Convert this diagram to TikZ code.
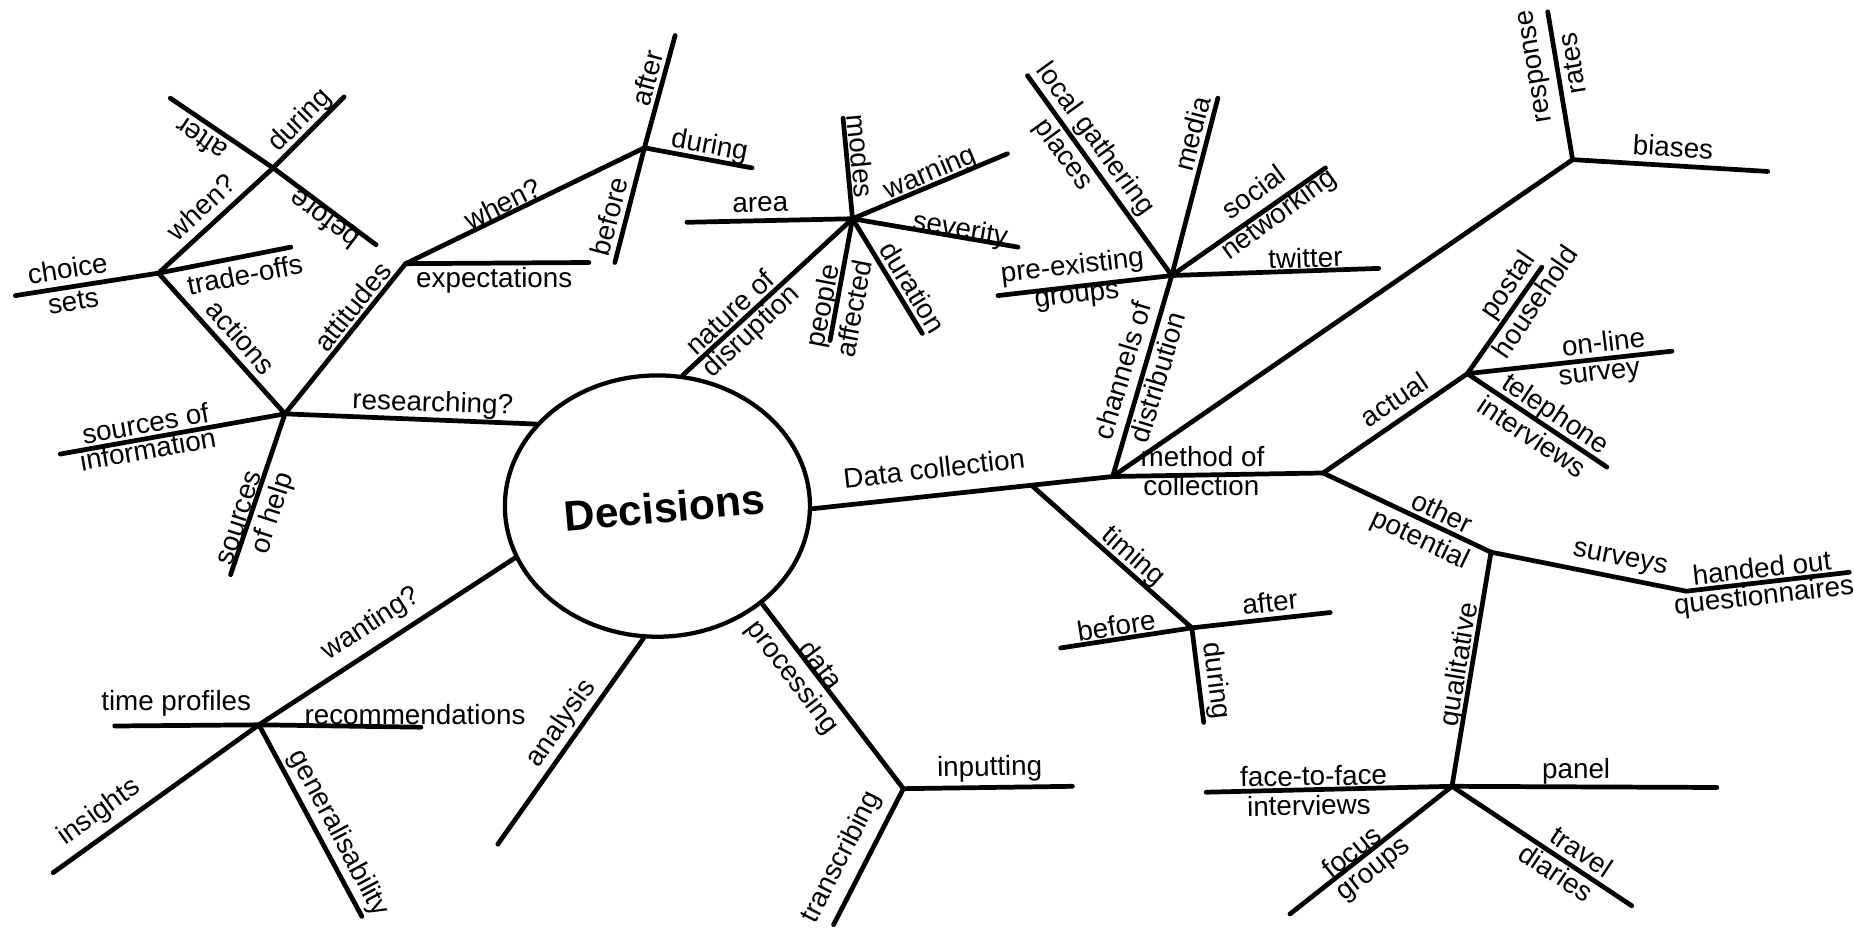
\documentclass[tikz,border=0pt]{standalone}
\usepackage{fontspec}
\setmainfont{Liberation Sans}
\usetikzlibrary{calc}
\usetikzlibrary{shapes.geometric}

\begin{document}
\begin{tikzpicture}[x=1pt, y=-1pt, line width=4pt, line cap=round, line join=round,
  lbl/.style={font=\fontsize{23.5}{26}\selectfont, inner sep=0pt}]
\useasboundingbox (0,0) rectangle (1568,785);

\node[draw, ellipse, minimum width=258pt, minimum height=221pt, line width=3.6pt] (dec) at (556,428) {};
\node[font=\fontsize{36}{40}\selectfont\bfseries, rotate=5, inner sep=0pt] (dectxt) at (562,429) {Decisions};

\coordinate (rs) at (241,350);
\coordinate (soi) at (51,384);
\coordinate (soh) at (195,486);
\coordinate (ch) at (134,231);
\coordinate (cs) at (13,250);
\coordinate (tro) at (246,209);
\coordinate (wh) at (231,142);
\coordinate (wdu) at (291,82);
\coordinate (waf) at (144,83);
\coordinate (wbe) at (318,207);
\coordinate (at) at (343,223);
\coordinate (ex) at (498,222);
\coordinate (wh2) at (545,125);
\coordinate (waf2) at (571,30);
\coordinate (wbe2) at (520,222);
\coordinate (wdu2) at (636,142);
\draw (dec.146) -- (rs);
\draw (soi) -- (rs) -- (soh);
\draw (rs) -- (ch) -- (cs);
\draw (ch) -- (tro);
\draw (ch) -- (wh) -- (wdu);
\draw (waf) -- (wh) -- (wbe);
\draw (rs) -- (at) -- (ex);
\draw (at) -- (wh2) -- (wdu2);
\draw (waf2) -- (wh2) -- (wbe2);

\coordinate (nd) at (721,185);
\coordinate (ar) at (581,188);
\coordinate (mo) at (713,100);
\coordinate (wa) at (852,130);
\coordinate (sv) at (861,209);
\coordinate (du) at (780,282);
\coordinate (pa) at (702,288);
\draw (dec.79) -- (nd);
\foreach \e in {ar,mo,wa,sv,du,pa} {
 \draw (nd) -- (\e);
}

\coordinate (cd) at (991,233);
\coordinate (lg) at (869,64);
\coordinate (md) at (1030,83);
\coordinate (sn) at (1121,142);
\coordinate (tw) at (1166,227);
\coordinate (pg) at (844,250);
\coordinate (mc) at (941,403);
\foreach \e in {lg,md,sn,tw,pg,mc} {
 \draw (cd) -- (\e);
}

\draw (dec.-1) -- (mc);
\coordinate (tm) at ($(dec.-1)!0.73!(mc)$);
\coordinate (bi) at (1330,135);
\coordinate (rr) at (1309,10);
\coordinate (bs) at (1495,145);
\draw (mc) -- (bi) -- (rr);
\draw (bi) -- (bs);
\coordinate (oc) at (1119,400);
\coordinate (ac) at (1241,316);
\coordinate (ph) at (1304,226);
\coordinate (os) at (1414,297);
\coordinate (ti) at (1359,395);
\draw (mc) -- (oc) -- (ac);
\foreach \e in {ph,os,ti} {
 \draw (ac) -- (\e);
}
\coordinate (op) at (1261,467);
\coordinate (sq) at (1426,500);
\coordinate (hq) at (1564,484);
\draw (oc) -- (op) -- (sq) -- (hq);
\coordinate (ql) at (1228,665);
\coordinate (ff) at (1020,670);
\coordinate (pn) at (1452,666);
\coordinate (fg) at (1091,773);
\coordinate (tdi) at (1380,766);
\draw (op) -- (ql);
\foreach \e in {ff,pn,fg,tdi} {
 \draw (ql) -- (\e);
}

\coordinate (tg) at (1008,531);
\coordinate (tb) at (897,548);
\coordinate (ta) at (1125,518);
\coordinate (tdu) at (1018,611);
\draw (tm) -- (tg);
\foreach \e in {tb,ta,tdu} {
 \draw (tg) -- (\e);
}

\coordinate (dp) at (764,667);
\coordinate (ip) at (907,665);
\coordinate (tr) at (705,782);
\draw (dec.-43.5) -- (dp) -- (ip);
\draw (dp) -- (tr);

\coordinate (wt) at (219,613);
\coordinate (tp) at (97,614);
\coordinate (rc) at (356,615);
\coordinate (is) at (45,738);
\coordinate (ge) at (306,775);
\draw (dec.200) -- (wt);
\foreach \e in {tp,rc,is,ge} {
 \draw (wt) -- (\e);
}
\coordinate (an) at (421,714);
\draw (dec.-96) -- (an);

\node[lbl, rotate=-2] (lrs) at (366,342) {researching?};
\node[lbl, rotate=10] (lsoi1) at (123,358) {sources of};
\node[lbl, rotate=10] (lsoi2) at (125,380) {information};
\node[lbl, rotate=72] (lsoh1) at (203,438) {sources};
\node[lbl, rotate=72] (lsoh2) at (231,434) {of help};
\node[lbl, rotate=-48.5] (lact) at (204,285) {actions};
\node[lbl, rotate=51] (latt) at (298,259) {attitudes};
\node[lbl, rotate=9] (lch1) at (57,227) {choice};
\node[lbl, rotate=9] (lch2) at (62,255) {sets};
\node[lbl, rotate=11] (ltro) at (207,232) {trade-offs};
\node[lbl, rotate=43] (lwh) at (170,175) {when?};
\node[lbl, rotate=146] (lwaf) at (170,118) {after};
\node[lbl, rotate=45] (lwdu) at (254,102) {during};
\node[lbl, rotate=143] (lwbe) at (274,186) {before};
\node[lbl, rotate=26] (lwh2) at (425,172) {when?};
\node[lbl] (lex) at (418,237) {expectations};
\node[lbl, rotate=75] (lwaf2) at (547,66) {after};
\node[lbl, rotate=75] (lwbe2) at (515,183) {before};
\node[lbl, rotate=-10.6] (lwdu2) at (600,124) {during};

\node[lbl, rotate=43] (lnd1) at (617,264) {nature of};
\node[lbl, rotate=43] (lnd2) at (636,281) {disruption};
\node[lbl, rotate=1] (lar) at (643,173) {area};
\node[lbl, rotate=-84.6] (lmo) at (728,132) {modes};
\node[lbl, rotate=23] (lwa) at (787,147) {warning};
\node[lbl, rotate=-9.6] (lsv) at (812,195) {severity};
\node[lbl, rotate=-58.6] (ldu) at (772,243) {duration};
\node[lbl, rotate=79] (lpa1) at (697,259) {people};
\node[lbl, rotate=79] (lpa2) at (722,261) {affected};

\node[lbl, rotate=-54] (llg1) at (926,118) {local gathering};
\node[lbl, rotate=-54] (llg2) at (899,131) {places};
\node[lbl, rotate=75.5] (lmd) at (1008,113) {media};
\node[lbl, rotate=36] (lsn1) at (1060,162) {social};
\node[lbl, rotate=36] (lsn2) at (1082,182) {networking};
\node[lbl, rotate=2] (ltw) at (1104,218) {twitter};
\node[lbl, rotate=6.6] (lpg1) at (907,226) {pre-existing};
\node[lbl, rotate=6.6] (lpg2) at (911,252) {groups};
\node[lbl, rotate=73.3] (lcd1) at (949,313) {channels of};
\node[lbl, rotate=73.3] (lcd2) at (979,319) {distribution};

\node[lbl, rotate=6.5] (ldc) at (790,396) {Data collection};
\node[lbl] (lmc1) at (1017,386) {method of};
\node[lbl] (lmc2) at (1016,411) {collection};
\node[lbl, rotate=99.5] (lrr1) at (1300,56) {response};
\node[lbl, rotate=99.5] (lrr2) at (1330,54) {rates};
\node[lbl, rotate=-3.6] (lbs) at (1415,124) {biases};
\node[lbl, rotate=34] (lac) at (1179,338) {actual};
\node[lbl, rotate=55.7] (lph1) at (1276,242) {postal};
\node[lbl, rotate=55.7] (lph2) at (1298,255) {household};
\node[lbl, rotate=6.8] (los1) at (1356,289) {on-line};
\node[lbl, rotate=6.8] (los2) at (1353,318) {survey};
\node[lbl, rotate=-33.7] (lti1) at (1315,351) {telephone};
\node[lbl, rotate=-33.7] (lti2) at (1296,369) {interviews};
\node[lbl, rotate=-25.5] (lop1) at (1220,433) {other};
\node[lbl, rotate=-25.5] (lop2) at (1201,457) {potential};
\node[lbl, rotate=-11] (lsq) at (1370,474) {surveys};
\node[lbl, rotate=6.3] (lhq1) at (1490,480) {handed out};
\node[lbl, rotate=6.3] (lhq2) at (1492,505) {questionnaires};
\node[lbl, rotate=80.5] (lql) at (1235,562) {qualitative};
\node[lbl, rotate=1] (lff1) at (1111,656) {face-to-face};
\node[lbl, rotate=1] (lff2) at (1107,681) {interviews};
\node[lbl] (lpn) at (1333,652) {panel};
\node[lbl, rotate=38.4] (lfg1) at (1143,720) {focus};
\node[lbl, rotate=38.4] (lfg2) at (1163,737) {groups};
\node[lbl, rotate=-33.7] (ltd1) at (1338,720) {travel};
\node[lbl, rotate=-33.7] (ltd2) at (1316,738) {diaries};

\node[lbl, rotate=-41.2] (ltm) at (958,471) {timing};
\node[lbl, rotate=9] (ltb) at (944,529) {before};
\node[lbl, rotate=6.2] (lta) at (1074,509) {after};
\node[lbl, rotate=-83] (ltdu) at (1028,576) {during};

\node[lbl, rotate=-52.7] (ldp1) at (695,562) {data};
\node[lbl, rotate=-52.7] (ldp2) at (670,573) {processing};
\node[lbl, rotate=1] (lip) at (837,650) {inputting};
\node[lbl, rotate=63] (ltr) at (712,725) {transcribing};

\node[lbl, rotate=33] (lwt) at (314,528) {wanting?};
\node[lbl] (ltp) at (149,595) {time profiles};
\node[lbl] (lrc) at (351,604) {recommendations};
\node[lbl, rotate=36] (lis) at (84,687) {insights};
\node[lbl, rotate=-62] (lge) at (286,705) {generalisability};
\node[lbl, rotate=55] (lan) at (475,612) {analysis};
\end{tikzpicture}
\end{document}
